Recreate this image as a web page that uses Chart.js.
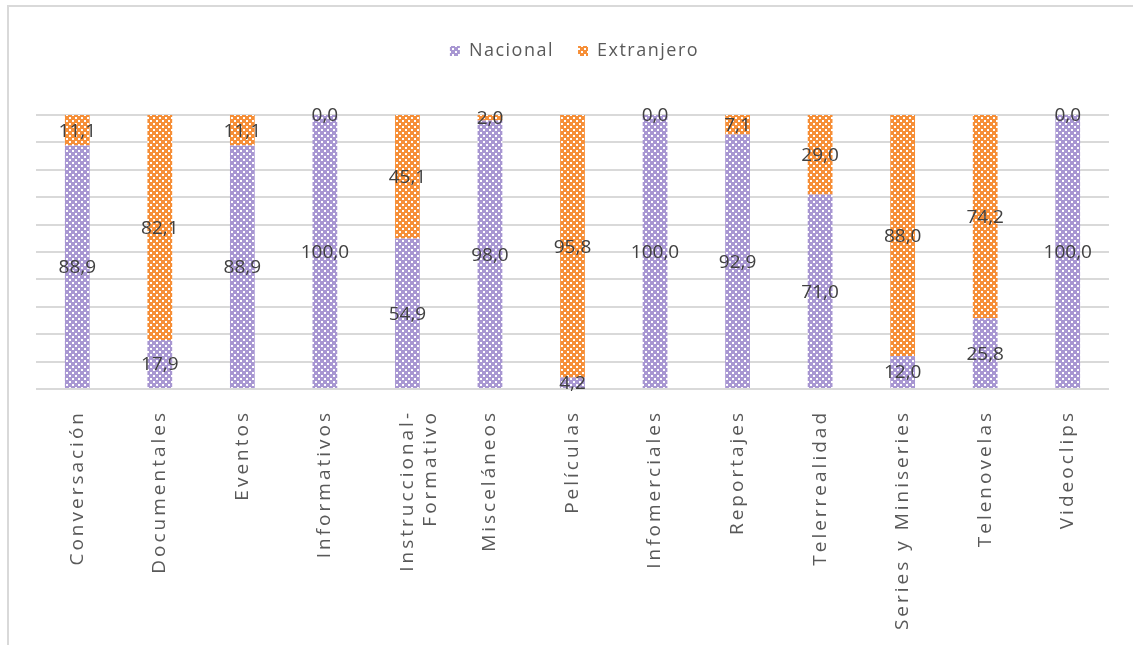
<!DOCTYPE html>
<html>
<head>
<meta charset="utf-8">
<script src="https://cdn.jsdelivr.net/npm/chart.js@4.4.0/dist/chart.umd.min.js"></script>
<style>
  html, body { margin: 0; padding: 0; background: #fff; overflow: hidden; }
  #frame { position: absolute; left: 7px; top: 5px; width: 1140px; height: 660px; border: 2px solid #d9d9d9; box-sizing: border-box; }
  #wrap { position: absolute; left: 0; top: 0; width: 1133px; height: 645px; }
</style>
</head>
<body>
<div id="frame"></div>
<div id="wrap"><canvas id="c" width="1133" height="645"></canvas></div>
<script>
const categories = ["Conversación", "Documentales", "Eventos", "Informativos", ["Instruccional-", "Formativo"], "Misceláneos", "Películas", "Infomerciales", "Reportajes", "Telerrealidad", "Series y Miniseries", "Telenovelas", "Videoclips"];
const nacional   = [88.9, 17.9, 88.9, 100.0, 54.9, 98.0, 4.2, 100.0, 92.9, 71.0, 12.0, 25.8, 100.0];
const extranjero = [11.1, 82.1, 11.1, 0.0, 45.1, 2.0, 95.8, 0.0, 7.1, 29.0, 88.0, 74.2, 0.0];
const seriesNames = ["Nacional", "Extranjero"];

function makePattern(base) {
  const t = document.createElement('canvas');
  t.width = 6; t.height = 6;
  const g = t.getContext('2d');
  g.fillStyle = base; g.fillRect(0, 0, 6, 6);
  g.fillStyle = '#ffffff';
  g.fillRect(0, 0, 2, 2);
  g.fillRect(3, 3, 2, 2);
  return g.createPattern(t, 'repeat');
}
const ctx = document.getElementById('c').getContext('2d');
const purplePat = makePattern('#a897d2');
const orangePat = makePattern('#f68f38');

const layoutFix = {
  id: 'layoutFix',
  afterInit(chart) {
    const lg = chart.legend;
    if (lg && !lg._wrapped) {
      const f = lg.fit;
      lg.fit = function () { f.apply(this, arguments); this.height = 97; };
      const d = lg.draw;
      lg.draw = function () { const c = this.ctx; c.save(); c.translate(20, 0); c.letterSpacing = '1.5px'; d.apply(this, arguments); c.restore(); };
      lg._wrapped = true;
    }
  },
  beforeLayout(chart) { chart.ctx.letterSpacing = '1.5px'; },
  afterLayout(chart) { chart.ctx.letterSpacing = '0px'; },
  beforeDraw(chart) {
    const x = chart.scales.x;
    if (x && !x._wrapped) {
      const d = x.drawLabels;
      x.drawLabels = function () { const c = this.ctx; c.save(); c.letterSpacing = '3px'; d.apply(this, arguments); c.restore(); };
      x._wrapped = true;
    }
  }
};

const dataLabels = {
  id: 'dataLabels',
  afterDatasetsDraw(chart) {
    const c = chart.ctx;
    c.save();
    c.font = '19px "Open Sans"';
    c.fillStyle = '#404040';
    c.textAlign = 'center';
    c.textBaseline = 'middle';
    chart.data.datasets.forEach((ds, i) => {
      const meta = chart.getDatasetMeta(i);
      meta.data.forEach((bar, j) => {
        const p = bar.getProps(['x', 'y', 'base'], true);
        const cy = (p.y + p.base) / 2;
        const txt = ds.data[j].toFixed(1).replace('.', ',');
        c.fillText(txt, p.x, cy + 1);
      });
    });
    c.restore();
  }
};

new Chart(ctx, {
  type: 'bar',
  data: {
    labels: categories,
    datasets: [
      { label: seriesNames[0], data: nacional, backgroundColor: purplePat, borderWidth: 0 },
      { label: seriesNames[1], data: extranjero, backgroundColor: orangePat, borderWidth: 0 }
    ]
  },
  options: {
    responsive: false,
    animation: false,
    devicePixelRatio: 1,
    layout: { padding: { top: 18, left: 0, right: 24, bottom: 0 } },
    datasets: { bar: { barPercentage: 0.3, categoryPercentage: 1.0 } },
    plugins: {
      legend: {
        position: 'top',
        align: 'center',
        labels: {
          boxWidth: 10, boxHeight: 10, padding: 24,
          color: '#595959',
          font: { family: '"Open Sans"', size: 18 }
        }
      },
      tooltip: { enabled: false }
    },
    scales: {
      x: {
        stacked: true,
        grid: { display: false },
        border: { display: false },
        ticks: {
          color: '#595959',
          font: { family: '"Open Sans"', size: 19 },
          minRotation: 90, maxRotation: 90,
          padding: 13,
          autoSkip: false
        },
        afterFit(s) { s.height = 645 - 389; }
      },
      y: {
        stacked: true,
        min: 0, max: 100,
        ticks: { display: false, stepSize: 10 },
        grid: { color: '#d9d9d9', lineWidth: 2, drawTicks: false },
        border: { display: false },
        afterFit(s) { s.width = 36; }
      }
    }
  },
  plugins: [layoutFix, dataLabels]
});
</script>
</body>
</html>
